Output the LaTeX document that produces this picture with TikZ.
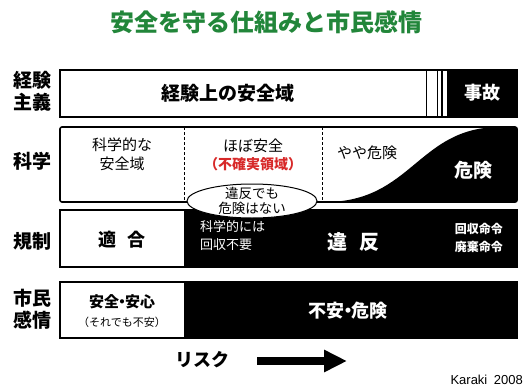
\documentclass[tikz,border=0pt]{standalone}
\usepackage{fontspec}
\setmainfont{Noto Sans CJK JP}
\newfontfamily\latfont{Liberation Sans}
\usetikzlibrary{arrows.meta,shapes.geometric}
\definecolor{titlegreen}{RGB}{34,134,58}
\definecolor{warnred}{RGB}{215,40,40}
\tikzset{
  rowbox/.style={draw=black,line width=1.6pt},
  blk/.style={fill=black},
  lbl/.style={font=\fontsize{19}{22}\selectfont\bfseries,align=center,inner sep=0pt},
  txt/.style={font=\fontsize{15}{19}\selectfont,align=center,inner sep=0pt},
  wtxt/.style={text=white,inner sep=0pt,align=center},
}
\begin{document}
\begin{tikzpicture}[x=1pt,y=-1pt]
\useasboundingbox (0,0) rectangle (527,388);
% title
\node[text=titlegreen,font=\fontsize{24}{28}\selectfont\bfseries,inner sep=0pt] (title) at (266,22) {安全を守る仕組みと市民感情};

% row 1
\fill[blk] (447,70) rectangle (517,117);
\draw[line width=1pt] (426,70) -- (426,117);
\draw[line width=1pt] (437,70) -- (437,117);
\draw[line width=1.4pt] (442,70) -- (442,117);
\draw[rowbox] (60,70) rectangle (517,117);
\node[lbl] (l1) at (32,91) {経験\\主義};
\node[lbl,font=\fontsize{19}{22}\selectfont\bfseries] (t11) at (228,93) {経験上の安全域};
\node[wtxt,font=\fontsize{18}{22}\selectfont\bfseries] (t12) at (482,93) {事故};

% row 2
\fill[blk] (325,202) .. controls (412,202) and (418,127) .. (500,127) -- (517,127) -- (517,202) -- cycle;
\draw[densely dashed,line width=0.8pt] (184,127) -- (184,202);
\draw[densely dashed,line width=0.8pt] (322,127) -- (322,202);
\draw[rowbox,rounded corners=2pt] (60,127) rectangle (517,202);
\node[lbl] (l2) at (32,161) {科学};
\node[txt] (t21) at (122,154) {科学的な\\安全域};
\node[txt] (t22) at (253,146) {ほぼ安全};
\node[txt,text=warnred,font=\fontsize{14}{17}\selectfont\bfseries] (t23) at (253,164) {（不確実領域）};
\node[txt] (t24) at (367,153) {やや危険};
\node[wtxt,font=\fontsize{19}{22}\selectfont\bfseries] (t25) at (473,170) {危険};

% row 3
\fill[blk] (184,210) rectangle (517,267);
\draw[rowbox] (60,210) rectangle (517,267);
\node[lbl] (l3) at (32,241) {規制};
\node[inner sep=0pt,font=\fontsize{18}{22}\selectfont\bfseries] (t31) at (122,240) {適\hspace{0.6em}合};
\node[wtxt,font=\fontsize{13}{18}\selectfont,align=left,anchor=west] (t32) at (200,236) {科学的には\\回収不要};
\node[wtxt,font=\fontsize{20}{24}\selectfont\bfseries] (t33) at (353,242) {違\hspace{0.6em}反};
\node[wtxt,font=\fontsize{12}{18}\selectfont\bfseries,align=right,anchor=east] (t34) at (503,238) {回収命令\\廃棄命令};

% ellipse
\node[ellipse,draw,line width=1pt,fill=white,minimum width=130pt,minimum height=34pt,inner sep=0pt] (ell) at (252,201) {};
\node[align=center,inner sep=0pt,font=\fontsize{13.5}{15}\selectfont] (ellt) at (ell.center) {違反でも\\危険はない};

% row 4
\fill[blk] (184,282) rectangle (517,338);
\draw[rowbox] (60,282) rectangle (517,338);
\node[lbl] (l4) at (32,309) {市民\\感情};
\node[inner sep=0pt,font=\fontsize{15}{18}\selectfont\bfseries] (t41) at (122,302) {安全\kern-0.3em・\kern-0.3em安心};
\node[inner sep=0pt,font=\fontsize{11}{14}\selectfont] (t42) at (122,322) {（それでも不安）};
\node[wtxt,font=\fontsize{18}{22}\selectfont\bfseries] (t43) at (348,311) {不安\kern-0.3em・\kern-0.3em危険};

% risk arrow
\node[inner sep=0pt,font=\fontsize{18}{22}\selectfont\bfseries] (risk) at (202,360) {リスク};
\coordinate (a0) at (257,361);
\coordinate (a1) at (347,361);
\draw[line width=7.5pt,-{Triangle[length=23pt,width=21pt]}] (a0) -- (a1);

\node[inner sep=0pt,font=\latfont\fontsize{13}{15}\selectfont,anchor=east] (kar) at (523,380) {Karaki\hspace{0.5em}2008};
\end{tikzpicture}
\end{document}
